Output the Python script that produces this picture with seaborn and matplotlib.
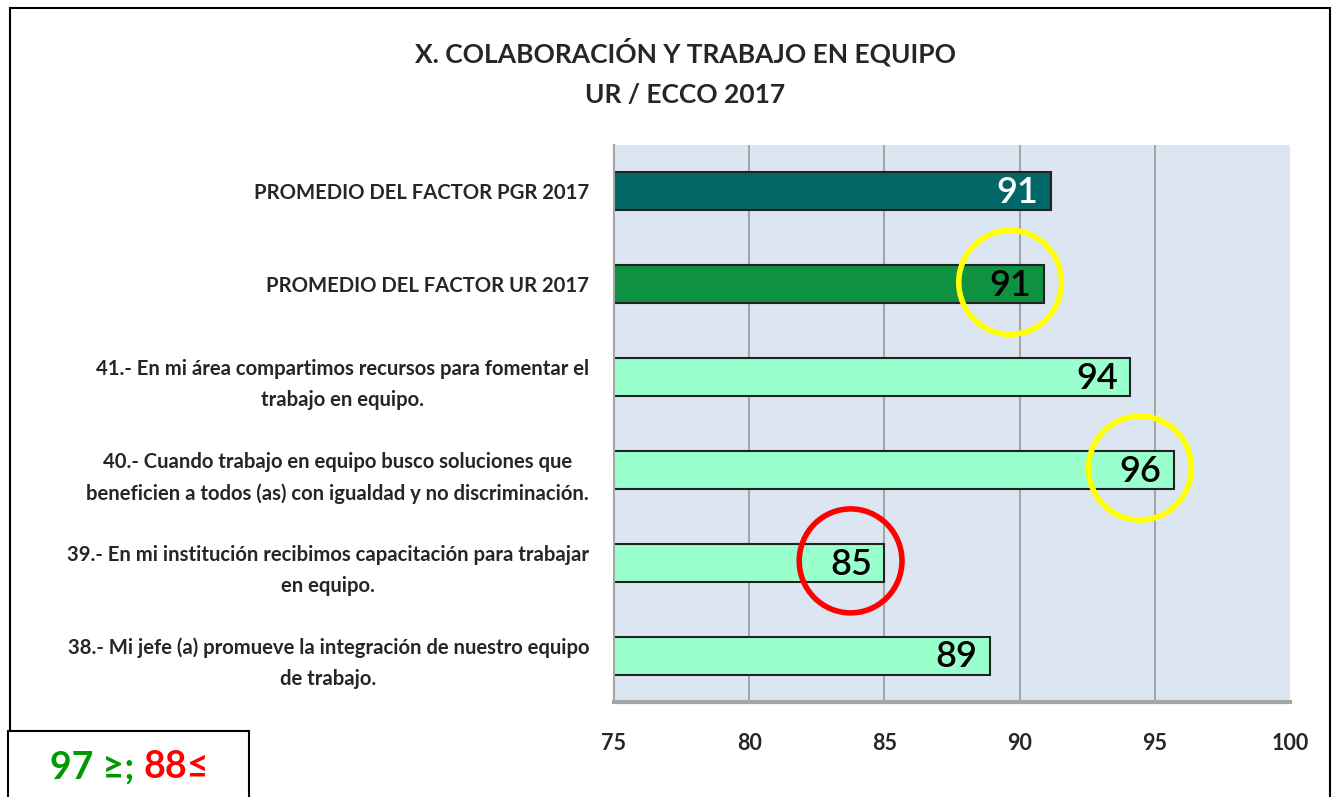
import numpy as np
import pandas as pd
import matplotlib
matplotlib.use("Agg")
import matplotlib.pyplot as plt
from matplotlib.patches import Ellipse, Rectangle
import seaborn as sns

# data
categories = [
    "PROMEDIO DEL FACTOR PGR 2017",
    "PROMEDIO DEL FACTOR UR 2017",
    "41.- En mi área compartimos recursos para fomentar el\ntrabajo en equipo.",
    "40.- Cuando trabajo en equipo busco soluciones que\nbeneficien a todos (as) con igualdad y no discriminación.",
    "39.- En mi institución recibimos capacitación para trabajar\nen equipo.",
    "38.- Mi jefe (a) promueve la integración de nuestro equipo\nde trabajo.",
]
values = [91.15, 90.9, 94.1, 95.7, 85.0, 88.9]
bar_colors = ["#006666", "#0E9140", "#99FFCC", "#99FFCC", "#99FFCC", "#99FFCC"]
label_colors = ["white", "black", "black", "black", "black", "black"]
highlight = {1: "#FFFF00", 3: "#FFFF00", 4: "#FF0000"}
xticks = [75, 80, 85, 90, 95, 100]


def main():
    sns.set_theme(style="white")
    plt.rcParams["font.family"] = ["Lato", "DejaVu Sans"]

    df = pd.DataFrame({"item": categories, "valor": values})

    fig = plt.figure(figsize=(13.36, 7.97), dpi=100)
    ax = fig.add_axes([614 / 1336, 1 - 702 / 797, 676 / 1336, 557 / 797])
    ax.set_facecolor("#DCE6F2")

    for x in xticks[1:-1]:
        ax.axvline(x, color="#A6A6A6", lw=1.5, zorder=0)

    sns.barplot(data=df, y="item", x="valor", hue="item", palette=bar_colors,
                saturation=1, orient="h", width=0.41, edgecolor="#222222",
                linewidth=1.5, legend=False, ax=ax, zorder=2)

    ax.set_xlim(75, 100)
    ax.set_xticks(xticks)
    ax.set_xticklabels([str(t) for t in xticks], fontsize=15.5, fontweight="bold")
    ax.tick_params(axis="x", length=0, pad=22)
    ax.tick_params(axis="y", length=0, pad=18)
    for lab in ax.get_yticklabels():
        lab.set_fontsize(14.6)
        lab.set_fontweight("bold")
        lab.set_multialignment("center")
        lab.set_linespacing(1.7)
    ax.set_xlabel("")
    ax.set_ylabel("")

    for s in ["top", "right"]:
        ax.spines[s].set_visible(False)
    ax.spines["left"].set_color("#A6A6A6")
    ax.spines["left"].set_linewidth(1.5)
    ax.spines["bottom"].set_color("#A6A6A6")
    ax.spines["bottom"].set_linewidth(3)

    # value labels inside the bar ends
    for i, v in enumerate(values):
        ax.annotate(f"{round(v):d}", (v, i), xytext=(-9, -1),
                    textcoords="offset points", ha="right", va="center",
                    fontsize=26, fontweight="semibold", color=label_colors[i],
                    zorder=4)

    # highlight circles
    for i, c in highlight.items():
        ax.add_patch(Ellipse((values[i] - 1.25, i - 0.02), 3.8, 1.12,
                             fill=False, edgecolor=c, lw=4, zorder=5,
                             clip_on=False))

    fig.text(0.513, 1 - 52 / 797, "X. COLABORACIÓN Y TRABAJO EN EQUIPO",
             ha="center", va="center", fontsize=19, fontweight="bold")
    fig.text(0.513, 1 - 95 / 797, "UR / ECCO 2017",
             ha="center", va="center", fontsize=19, fontweight="bold")

    # outer frame and note box
    fig.patches.append(Rectangle((10 / 1336, -0.05), 1320 / 1336, 1.05 - 8 / 797,
                                 transform=fig.transFigure, fill=False,
                                 edgecolor="black", lw=1.5))
    fig.patches.append(Rectangle((8 / 1336, -0.05), 241 / 1336, 0.05 + 66 / 797,
                                 transform=fig.transFigure, facecolor="white",
                                 edgecolor="black", lw=1.5))
    t1 = fig.text(50 / 1336, 1 - 767 / 797, "97 ≥; ", ha="left", va="center",
                  fontsize=27, fontweight="bold", color="#009900")
    fig.canvas.draw()
    bb = t1.get_window_extent()
    fig.text(bb.x1 / 1336, 1 - 767 / 797, "88≤", ha="left", va="center",
             fontsize=27, fontweight="bold", color="#FF0000")

    fig.savefig("out.png", dpi=100)


if __name__ == "__main__":
    main()
